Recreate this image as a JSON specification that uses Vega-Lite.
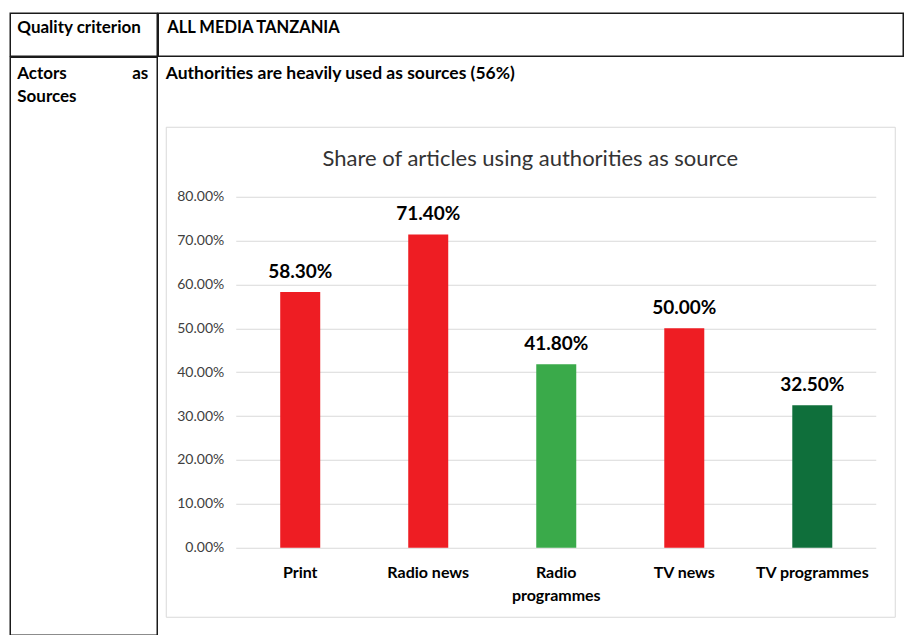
{
  "$schema": "https://vega.github.io/schema/vega-lite/v6.json",
  "background": "white",
  "padding": {"left": 9.25, "top": 12.25, "right": 0, "bottom": 0},
  "config": {"font": "Lato", "view": {"stroke": null}},
  "spacing": -1.5,
  "hconcat": [
    {
      "spacing": -1.5,
      "vconcat": [
        {
          "width": 147, "height": 43,
          "view": {"stroke": "#1a1a1a", "strokeWidth": 1.5},
          "data": {"values": [{}]},
          "mark": {"type": "text", "text": "Quality criterion", "align": "left", "baseline": "alphabetic", "fontSize": 17, "fontWeight": "bold", "font": "Lato", "color": "#000"},
          "encoding": {"x": {"value": 7}, "y": {"value": 19.5}}
        },
        {
          "width": 147, "height": 578,
          "view": {"stroke": "#1a1a1a", "strokeWidth": 1.5},
          "data": {"values": [{}]},
          "layer": [
            {
              "mark": {"type": "text", "text": "Actors", "align": "left", "baseline": "alphabetic", "fontSize": 17, "fontWeight": "bold", "font": "Lato", "color": "#000"},
              "encoding": {"x": {"value": 7}, "y": {"value": 21.5}}
            },
            {
              "mark": {"type": "text", "text": "as", "align": "right", "baseline": "alphabetic", "fontSize": 17, "fontWeight": "bold", "font": "Lato", "color": "#000"},
              "encoding": {"x": {"value": 138}, "y": {"value": 21.5}}
            },
            {
              "mark": {"type": "text", "text": "Sources", "align": "left", "baseline": "alphabetic", "fontSize": 17, "fontWeight": "bold", "font": "Lato", "color": "#000"},
              "encoding": {"x": {"value": 7}, "y": {"value": 44.5}}
            }
          ]
        }
      ]
    },
    {
      "spacing": -1.5,
      "vconcat": [
        {
          "width": 745, "height": 43,
          "view": {"stroke": "#1a1a1a", "strokeWidth": 1.5},
          "data": {"values": [{}]},
          "mark": {"type": "text", "text": "ALL MEDIA TANZANIA", "align": "left", "baseline": "alphabetic", "fontSize": 16.5, "fontWeight": "bold", "font": "Lato", "color": "#000"},
          "encoding": {"x": {"value": 9}, "y": {"value": 19.5}}
        },
        {
          "spacing": 5.5,
          "hconcat": [
            {
              "width": 1, "height": 1,
              "data": {"values": [{}]},
              "mark": {"type": "text", "text": ""},
              "encoding": {}
            },
            {
              "width": 729, "height": 490,
              "view": {"stroke": "#d9d9d9", "strokeWidth": 1},
              "title": {"text": ["", "Authorities are heavily used as sources (56%)"], "anchor": "start", "frame": "group", "orient": "top", "offset": 30, "baseline": "alphabetic", "lineHeight": 9, "fontSize": 17.5, "fontWeight": "bold", "font": "Lato", "color": "#000"},
              "data": {"values": [
                {"medium": "Print", "share": 0.583},
                {"medium": "Radio news", "share": 0.714},
                {"medium": "Radio programmes", "share": 0.418},
                {"medium": "TV news", "share": 0.5},
                {"medium": "TV programmes", "share": 0.325}
              ]},
              "layer": [
                {
                  "mark": {"type": "bar"},
                  "encoding": {
                    "x": {"field": "medium", "type": "nominal", "sort": null,
                      "scale": {"paddingInner": 0.6875, "paddingOuter": 0.691, "align": 0.647},
                      "axis": {"title": null, "orient": "bottom", "offset": -69, "ticks": false, "domain": false, "labelPadding": 17, "labelFontSize": 16, "labelFontWeight": "bold", "labelColor": "#000", "labelFont": "Lato", "labelAngle": 0, "labelLineHeight": 23, "labelExpr": "datum.label == 'Radio programmes' ? ['Radio', 'programmes'] : datum.label"}},
                    "y": {"field": "share", "type": "quantitative",
                      "scale": {"domain": [-0.1573, 0.9595], "nice": false, "zero": false},
                      "axis": {"title": null, "orient": "left", "offset": -710, "values": [0, 0.1, 0.2, 0.3, 0.4, 0.5, 0.6, 0.7, 0.8], "format": ".2%", "grid": false, "domain": false, "ticks": true, "tickSize": 640, "tickColor": "#d9d9d9", "tickWidth": 1, "labelPadding": 12, "labelFontSize": 14, "labelColor": "#404040", "labelFont": "Lato"}},
                    "color": {"field": "medium", "type": "nominal",
                      "scale": {"domain": ["Print", "Radio news", "Radio programmes", "TV news", "TV programmes"], "range": ["#EE1D23", "#EE1D23", "#3AAA4A", "#EE1D23", "#0F6F3B"]},
                      "legend": null}
                  }
                },
                {
                  "mark": {"type": "text", "baseline": "alphabetic", "dy": -14, "fontSize": 19, "fontWeight": "bold", "font": "Lato", "color": "#000"},
                  "encoding": {
                    "x": {"field": "medium", "type": "nominal", "sort": null},
                    "y": {"field": "share", "type": "quantitative"},
                    "text": {"field": "share", "type": "quantitative", "format": ".2%"}
                  }
                },
                {
                  "data": {"values": [{}]},
                  "mark": {"type": "text", "text": "Share of articles using authorities as source", "baseline": "middle", "align": "center", "fontSize": 22, "font": "Lato", "color": "#333"},
                  "encoding": {
                    "y": {"datum": 0.8866}
                  }
                }
              ]
            }
          ]
        }
      ]
    }
  ]
}
